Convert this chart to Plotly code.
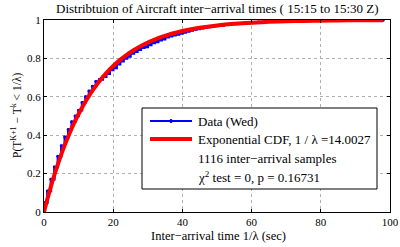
import plotly.graph_objects as go

data_t = [0, 1, 2, 3, 4, 5, 6, 7, 8, 9, 10, 11, 12, 13, 14, 15, 16, 17, 18, 19,
          20, 21, 22, 23, 24, 25, 26, 27, 28, 29, 30, 31, 32, 33, 34, 35, 36, 37, 38, 39,
          40, 41, 42, 43, 44, 45, 46, 47, 48, 49, 50, 52, 54, 56, 58, 60, 62, 64, 67, 70,
          73, 77, 82, 88, 93, 98]
data_p = [0.05, 0.11, 0.17, 0.235, 0.29, 0.345, 0.39, 0.43, 0.47, 0.50, 0.53, 0.57, 0.60, 0.63, 0.655, 0.68, 0.69, 0.705, 0.72, 0.74,
          0.75, 0.77, 0.785, 0.80, 0.81, 0.825, 0.835, 0.845, 0.855, 0.86, 0.87, 0.88, 0.885, 0.895, 0.90, 0.91, 0.915, 0.92, 0.925, 0.93,
          0.935, 0.94, 0.945, 0.95, 0.953, 0.957, 0.96, 0.963, 0.966, 0.969, 0.972, 0.976, 0.979, 0.982, 0.985, 0.987, 0.989, 0.991, 0.993, 0.994,
          0.995, 0.996, 0.997, 0.998, 0.999, 1.0]

# Fitted exponential CDF (1/lambda = 14.0027), sampled values
fit_t = [0, 1, 2, 3, 4, 5, 6, 7, 8, 9, 10, 12, 14, 16, 18, 20, 22, 24, 26, 28, 30, 32, 34, 36, 38, 40,
         45, 50, 55, 60, 65, 70, 75, 80, 85, 90, 95, 98]
fit_p = [0.0, 0.0689, 0.1331, 0.1929, 0.2485, 0.3003, 0.3485, 0.3934, 0.4352, 0.4741, 0.5104, 0.5756, 0.6321,
         0.6810, 0.7235, 0.7604, 0.7922, 0.8199, 0.8438, 0.8647, 0.8827, 0.8983, 0.9119, 0.9236, 0.9337, 0.9426,
         0.9597, 0.9718, 0.9803, 0.9862, 0.9904, 0.9933, 0.9953, 0.9967, 0.9977, 0.9984, 0.9989, 0.9991]

x_ticks = [0, 20, 40, 60, 80, 100]
y_ticks = [0, 0.2, 0.4, 0.6, 0.8, 1]
y_tick_text = ["0", "0.2", "0.4", "0.6", "0.8", "1"]

legend_labels = ["Data (Wed)", "Exponential CDF, 1 / λ =14.0027",
                 "1116 inter−arrival samples", "χ<sup>2</sup> test = 0, p = 0.16731"]

FONT = "Liberation Serif, Times New Roman, serif"

# plot area in pixels: x 44..390, y 20..212
L, R, T, B = 44, 390, 20, 212
W, H = R - L, B - T
def px(x):
    return (x - L) / W
def py(y):
    return (B - y) / H

fig = go.Figure()
fig.add_trace(go.Scatter(x=data_t, y=data_p, mode="lines+markers", line_shape="hv",
                         line=dict(color="#0000ff", width=2.5), marker=dict(color="#0000ff", size=3),
                         name=legend_labels[0], showlegend=False))
fig.add_trace(go.Scatter(x=fit_t, y=fit_p, mode="lines", line_shape="spline",
                         line=dict(color="#ff0000", width=4),
                         name=legend_labels[1], showlegend=False))

axis_common = dict(showline=True, linecolor="black", linewidth=1, mirror="ticks",
                   ticks="inside", ticklen=3, tickcolor="black", automargin=False,
                   showgrid=True, gridcolor="#b0b0b0", griddash="dot", gridwidth=1,
                   zeroline=False, tickfont=dict(family=FONT, size=11, color="black"))

shapes = [
    dict(type="rect", xref="paper", yref="paper", x0=px(142), x1=px(377), y0=py(189), y1=py(108),
         line=dict(color="black", width=1), fillcolor="white", layer="above"),
    dict(type="line", xref="paper", yref="paper", x0=px(150), x1=px(192), y0=py(121), y1=py(121),
         line=dict(color="#0000ff", width=2), layer="above"),
    dict(type="circle", xref="paper", yref="paper", x0=px(169.5), x1=px(172.5), y0=py(122.5), y1=py(119.5),
         line=dict(color="#0000ff", width=1), fillcolor="#0000ff", layer="above"),
    dict(type="line", xref="paper", yref="paper", x0=px(150), x1=px(192), y0=py(139), y1=py(139),
         line=dict(color="#ff0000", width=4), layer="above"),
]

annotations = []
for lab, yy in zip(legend_labels, [121, 139, 158, 177]):
    annotations.append(dict(text=lab, xref="paper", yref="paper", x=px(196), y=py(yy),
                            xanchor="left", yanchor="middle", showarrow=False,
                            font=dict(family=FONT, size=13, color="black")))
annotations.append(dict(text="Distribtuion of Aircraft inter−arrival times ( 15:15 to 15:30 Z)",
                        xref="paper", yref="paper", x=px(217), y=py(8), xanchor="center", yanchor="middle",
                        showarrow=False, font=dict(family=FONT, size=13, color="black")))
annotations.append(dict(text="Inter−arrival time 1/λ (sec)",
                        xref="paper", yref="paper", x=px(218), y=py(236), xanchor="center", yanchor="middle",
                        showarrow=False, font=dict(family=FONT, size=12.5, color="black")))
annotations.append(dict(text="P(T<sup>K+1</sup> − T<sup>k</sup> < 1/λ)",
                        xref="paper", yref="paper", x=px(16), y=py(116), xanchor="center", yanchor="middle",
                        textangle=-90, showarrow=False, font=dict(family=FONT, size=11.5, color="black")))

fig.update_layout(
    width=400, height=247,
    margin=dict(l=L, r=400 - R, t=T, b=247 - B),
    paper_bgcolor="white", plot_bgcolor="white",
    font=dict(family=FONT, size=11, color="black"),
    xaxis=dict(range=[0, 100], tickvals=x_ticks, **axis_common),
    yaxis=dict(range=[0, 1], tickvals=y_ticks, ticktext=y_tick_text, **axis_common),
    shapes=shapes,
    annotations=annotations,
    showlegend=False,
)

fig.write_html("out.html", config={"displayModeBar": False},
               post_script="document.body.style.margin='0';")
